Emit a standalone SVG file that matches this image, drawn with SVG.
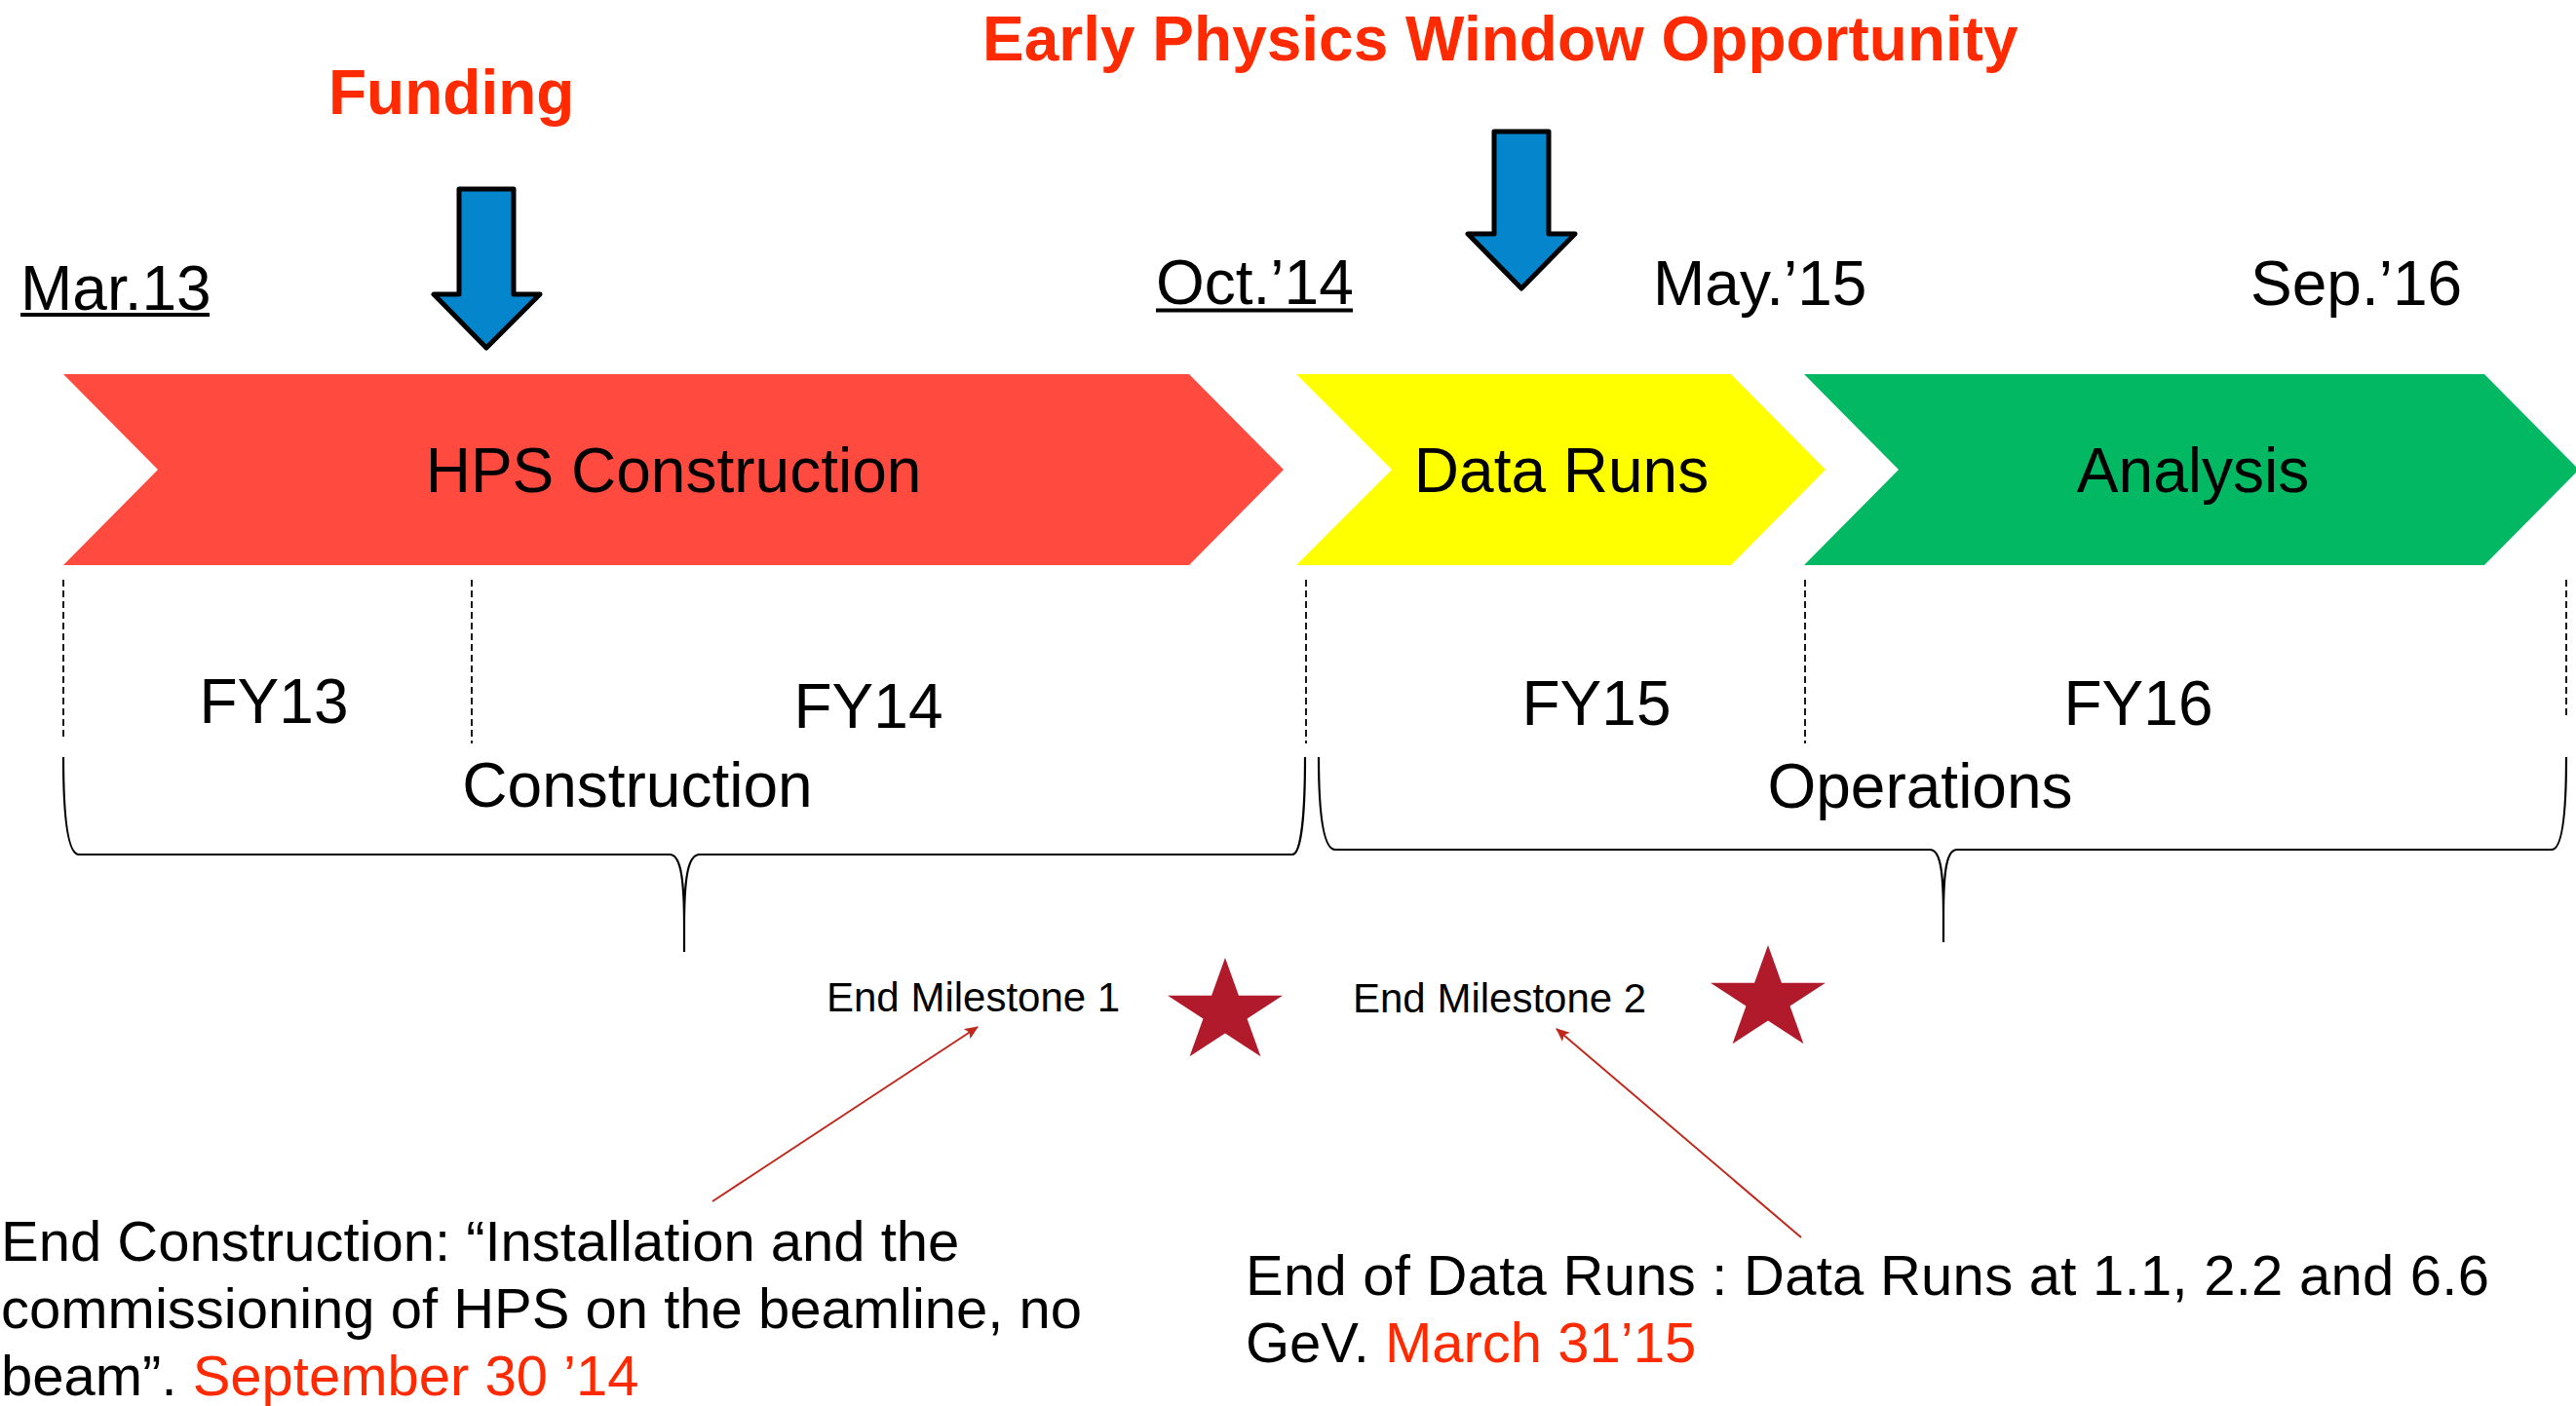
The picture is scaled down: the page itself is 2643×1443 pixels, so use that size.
<svg xmlns="http://www.w3.org/2000/svg" xmlns:xlink="http://www.w3.org/1999/xlink" width="2643" height="1443" viewBox="0 0 2643 1443">
<style>
text{font-family:"Liberation Sans",Arial,sans-serif;fill:#000}
.head{font-size:64px;font-weight:bold;fill:#FF2A00}
.date{font-size:64px}
.lbl{font-size:64px;text-anchor:middle}
.ms{font-size:42px}
.note{font-size:58px}
.red{fill:#FF2A00}
.dash{stroke:#000;stroke-width:1.8;stroke-dasharray:7 4;fill:none}
.brace{stroke:#000;stroke-width:2.2;fill:none}
.uline{stroke:#000;stroke-width:4}
.blue{fill:#0585CC;stroke:#000;stroke-width:5;stroke-linejoin:round}
.conn{stroke:#C0281C;stroke-width:2;fill:none}
.star{fill:#B01A2A}
</style>
<defs>
<polygon id="star" points="0,-56 13.92,-17.3 58.97,-17.3 22.52,6.61 36.44,45.3 0,21.39 -36.44,45.3 -22.52,6.61 -58.97,-17.3 -13.92,-17.3"/>
<marker id="ah" markerUnits="userSpaceOnUse" markerWidth="16" markerHeight="14" refX="13" refY="6" orient="auto">
<path d="M0,0 L14,6 L0,12 L3,6 z" fill="#C0281C"/>
</marker>
</defs>
<rect width="2643" height="1443" fill="#fff"/>

<g id="heading-funding"><text class="head" x="337" y="117">Funding</text></g>
<g id="heading-early"><text class="head" x="1008" y="62">Early Physics Window Opportunity</text></g>

<g id="arrow-funding"><polygon class="blue" points="471,194 527,194 527,302 554,302 499,357 445,302 471,302"/></g>
<g id="arrow-early"><polygon class="blue" points="1533,135 1589,135 1589,240 1616,240 1561,296 1506,240 1533,240"/></g>

<g id="date-mar13"><text class="date" x="21" y="318">Mar.13</text><line class="uline" x1="21" y1="323" x2="215" y2="323"/></g>
<g id="date-oct14"><text class="date" x="1186" y="312">Oct.’14</text><line class="uline" x1="1186" y1="318.5" x2="1388" y2="318.5"/></g>
<g id="date-may15"><text class="date" x="1696" y="313">May.’15</text></g>
<g id="date-sep16"><text class="date" x="2309" y="313">Sep.’16</text></g>

<g id="phase-construction">
<polygon points="65,384 1220,384 1317,482 1220,580 65,580 162,482" fill="#FF4B3F"/>
<text class="lbl" x="691" y="505">HPS Construction</text>
</g>
<g id="phase-dataruns">
<polygon points="1330,384 1776,384 1873,482 1776,580 1330,580 1428,482" fill="#FFFF00"/>
<text class="lbl" x="1602" y="505">Data Runs</text>
</g>
<g id="phase-analysis">
<polygon points="1851,384 2549,384 2646,482 2549,580 1851,580 1948,482" fill="#02B863"/>
<text class="lbl" x="2250" y="505">Analysis</text>
</g>

<g id="fy-dividers">
<line class="dash" x1="65" y1="595" x2="65" y2="758"/>
<line class="dash" x1="484" y1="595" x2="484" y2="763"/>
<line class="dash" x1="1340" y1="595" x2="1340" y2="763"/>
<line class="dash" x1="1852" y1="595" x2="1852" y2="763"/>
<line class="dash" x1="2633" y1="595" x2="2633" y2="735"/>
</g>
<g id="fy13"><text class="lbl" x="281" y="742">FY13</text></g>
<g id="fy14"><text class="lbl" x="891" y="747">FY14</text></g>
<g id="fy15"><text class="lbl" x="1638" y="744">FY15</text></g>
<g id="fy16"><text class="lbl" x="2194" y="744">FY16</text></g>

<g id="brace-construction">
<path class="brace" d="M65,777 C65,835 69,877 81,877 L687,877 C697,877 702,895 702,950 L702,977 M702,950 C702,895 707,877 718,877 L1326,877 C1335,877 1339,835 1339,777"/>
<text class="lbl" x="654" y="828">Construction</text>
</g>
<g id="brace-operations">
<path class="brace" d="M1353,777 C1353,832 1357,872 1370,872 L1980,872 C1990,872 1994,890 1994,940 L1994,967 M1994,940 C1994,890 1998,872 2008,872 L2618,872 C2629,872 2633,832 2633,777"/>
<text class="lbl" x="1970" y="829">Operations</text>
</g>

<g id="milestone-1">
<text class="ms" x="848" y="1038">End Milestone 1</text>
<use xlink:href="#star" href="#star" class="star" x="1257" y="1039"/>
</g>
<g id="milestone-2">
<text class="ms" x="1388" y="1039">End Milestone 2</text>
<use xlink:href="#star" href="#star" class="star" x="1814" y="1026"/>
</g>

<g id="note-construction">
<text class="note" x="1" y="1294">End Construction: “Installation and the</text>
<text class="note" x="1" y="1363">commissioning of HPS on the beamline, no</text>
<text class="note" x="1" y="1432">beam”. <tspan class="red">September 30 ’14</tspan></text>
</g>
<g id="note-dataruns">
<text class="note" x="1278" y="1329" textLength="1276">End of Data Runs : Data Runs at 1.1, 2.2 and 6.6</text>
<text class="note" x="1278" y="1398">GeV. <tspan class="red">March 31’15</tspan></text>
</g>

<g id="connectors">
<line class="conn" x1="731" y1="1233" x2="1003" y2="1054" marker-end="url(#ah)"/>
<line class="conn" x1="1848" y1="1270" x2="1597" y2="1056" marker-end="url(#ah)"/>
</g>
</svg>
